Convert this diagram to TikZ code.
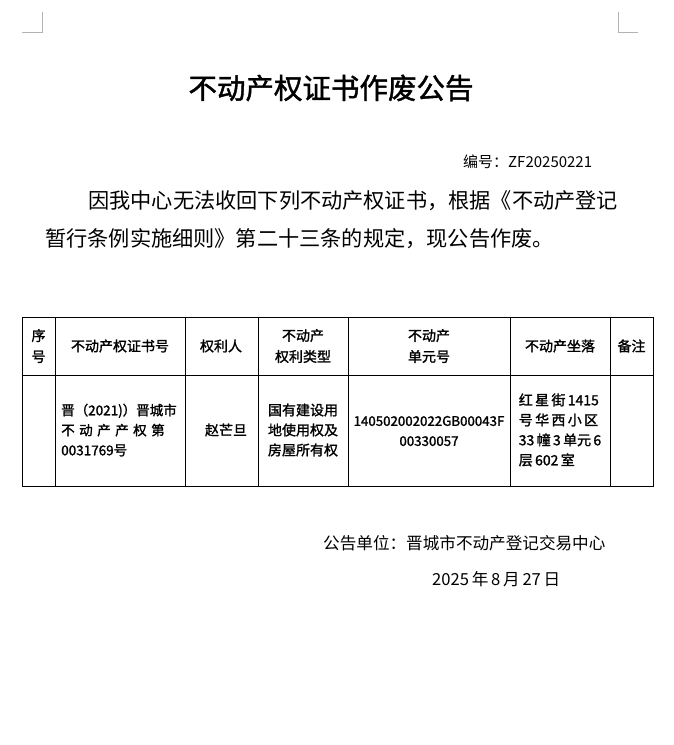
\documentclass[tikz,border=0pt]{standalone}
\usepackage{fontspec}
\newfontfamily\cjk{Noto Sans CJK SC}
\newfontfamily\cjkb[FakeBold=1.5]{Noto Sans CJK SC}
\begin{document}
\begin{tikzpicture}[x=1pt,y=-1pt,
  t/.style={font=\cjk\fontsize{14}{17}\selectfont, align=center, inner sep=0},
  tb/.style={font=\cjkb\fontsize{14}{21}\selectfont, align=center, inner sep=0},
  body/.style={font=\cjk\fontsize{21.2}{24}\selectfont, anchor=west, inner sep=0}]
\useasboundingbox (0,0) rectangle (673,745);
\fill[white] (0,0) rectangle (673,745);
\draw[gray!60] (22,32) -- (42,32) -- (42,12);
\draw[gray!60] (638,32) -- (618,32) -- (618,12);
\node[font=\cjkb\fontsize{28.5}{30}\selectfont, inner sep=0] (title) at (331,88) {不动产权证书作废公告};
\node[font=\cjk\fontsize{15}{18}\selectfont, anchor=west, inner sep=0] (num) at (463,162) {编号：ZF20250221};
\node[body] (l1) at (88,201) {因我中心无法收回下列不动产权证书，根据《不动产登记};
\node[body] (l2) at (45,239) {暂行条例实施细则》第二十三条的规定，现公告作废。};
% table
\draw (22,317) rectangle (653,486);
\draw (22,375) -- (653,375);
\foreach \x in {55,185,258,348,510,610} \draw (\x,317) -- (\x,486);
\node[tb] (h1) at (38.5,346) {序\\号};
\node[tb] (h2) at (120,346) {不动产权证书号};
\node[tb] (h3) at (221,346) {权利人};
\node[tb] (h4) at (303,346) {不动产\\权利类型};
\node[tb] (h5) at (429,346) {不动产\\单元号};
\node[tb] (h6) at (560,346) {不动产坐落};
\node[tb] (h7) at (631.5,346) {备注};
\node[tb, align=left, font=\cjkb\fontsize{13.5}{20}\selectfont] (c2) at (119,430) {晋（2021)）晋城市\\不\,\,动\,\,产\,\,产\,\,权\,\,第\\0031769号};
\node[tb] (c3) at (226,430) {赵芒旦};
\node[tb, font=\cjkb\fontsize{14}{20}\selectfont] (c4) at (303,430) {国有建设用\\地使用权及\\房屋所有权};
\node[tb, font=\cjkb\fontsize{13.3}{20}\selectfont] (c5) at (429,431) {140502002022GB00043F\\00330057};
\node[tb, align=left, font=\cjkb\fontsize{14}{20}\selectfont] (c6) at (560,430) {红\,星\,街\,1415\\号\,华\,西\,小\,区\\33\,幢\,3\,单元\,6\\层\,602\,室};
\node[font=\cjk\fontsize{16.6}{19}\selectfont, anchor=west, inner sep=0] (f1) at (323,543) {公告单位：晋城市不动产登记交易中心};
\node[font=\cjk\fontsize{16.6}{19}\selectfont, anchor=west, inner sep=0] (f2) at (432,579) {2025\,年\,8\,月\,27\,日};
\end{tikzpicture}
\end{document}
